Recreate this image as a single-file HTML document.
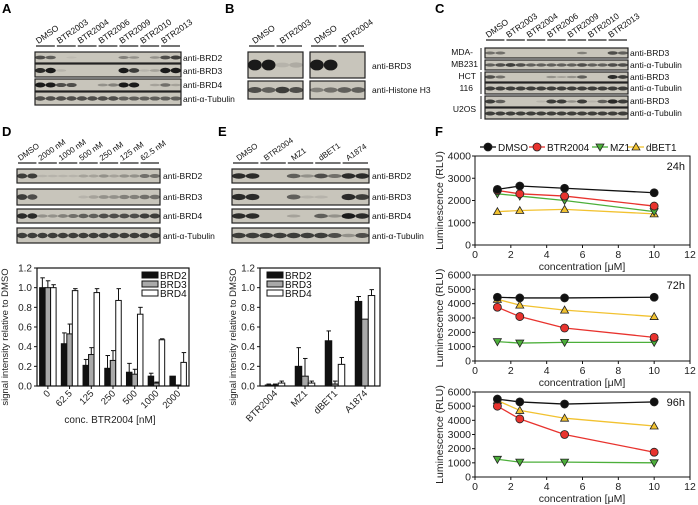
<!DOCTYPE html>
<html><head><meta charset="utf-8"><style>
html,body{margin:0;padding:0;background:#fff;}
svg{display:block;font-family:"Liberation Sans",Arial,sans-serif;}
</style></head><body>
<svg id="fig" width="698" height="505" viewBox="0 0 698 505" xmlns="http://www.w3.org/2000/svg">
<g font-weight="bold" font-size="13" fill="#000">
<text x="2" y="13">A</text>
<text x="225" y="13">B</text>
<text x="435" y="13">C</text>
<text x="2" y="136">D</text>
<text x="218" y="136">E</text>
<text x="435" y="136">F</text>
</g>
<g id="blots"></g>
<g id="bars"></g>
<g id="lines"></g>
</svg>
<script>
// ---------- Chart data ----------
var dCats = ["0","62.5","125","250","500","1000","2000"];
var dBRD2 = [1.0,0.43,0.21,0.18,0.14,0.10,0.10];
var dBRD3 = [1.0,0.53,0.32,0.26,0.12,0.03,0.01];
var dBRD4 = [1.0,0.97,0.95,0.87,0.73,0.47,0.24];
var dErr2 = [0.10,0.11,0.06,0.13,0.09,0.03,0.0];
var dErr3 = [0.07,0.10,0.07,0.10,0.05,0.01,0.0];
var dErr4 = [0.03,0.02,0.04,0.12,0.07,0.01,0.10];
var eCats = ["BTR2004","MZ1","dBET1","A1874"];
var eBRD2 = [0.01,0.20,0.46,0.86];
var eBRD3 = [0.01,0.10,0.02,0.68];
var eBRD4 = [0.03,0.03,0.22,0.92];
var eErr2 = [0.01,0.19,0.10,0.05];
var eErr3 = [0.01,0.18,0.03,0.0];
var eErr4 = [0.02,0.02,0.07,0.06];
var barTicks = ["0.0","0.2","0.4","0.6","0.8","1.0","1.2"];
var fConc = [1.25,2.5,5,10];
var fXTicks = [0,2,4,6,8,10,12];
var f24DMSO = [2500,2650,2550,2350];
var f24BTR = [2450,2300,2200,1750];
var f24MZ1 = [2300,2200,2000,1500];
var f24dBET = [1500,1550,1600,1400];
var f72DMSO = [4450,4400,4400,4450];
var f72BTR = [3750,3100,2300,1650];
var f72MZ1 = [1350,1250,1300,1300];
var f72dBET = [4300,3900,3550,3100];
var f96DMSO = [5500,5300,5150,5300];
var f96BTR = [5000,4100,3000,1750];
var f96MZ1 = [1250,1050,1050,1000];
var f96dBET = [5400,4700,4150,3600];

var NS="http://www.w3.org/2000/svg";
function mk(tag,attrs,parent,txt){var e=document.createElementNS(NS,tag);for(var k in attrs)e.setAttribute(k,attrs[k]);if(txt!==undefined)e.textContent=txt;parent.appendChild(e);return e;}
var B=document.getElementById('blots'),BR=document.getElementById('bars'),LN=document.getElementById('lines');

// ---------- Blots ----------
function blot(x,y,w,h,lanes,name){
  var g=mk('g',{},B);
  
  
  mk('rect',{x:x,y:y,width:w,height:h,fill:'#c8c5bb',stroke:'#222','stroke-width':1.2},g);
  var lw=w/lanes.length;
  for(var i=0;i<lanes.length;i++){
    var v=lanes[i]; if(v<=0) continue;
    mk('ellipse',{cx:x+lw*(i+0.5),cy:y+h/2,rx:lw*0.5,ry:Math.max(0.8,h*0.16*(0.5+v*0.8)),fill:'#1a1a1a',opacity:Math.min(1,v)},g);
  }
}
function lbl(x,y,t,name,size,anchor){var e=mk('text',{x:x,y:y,'font-size':size||8.5,'text-anchor':anchor||'start',fill:'#111'},B,t);return e;}
function colLabels(x0,lw,names,y,size){
  for(var i=0;i<names.length;i++){
    var cx=x0+lw*(2*i+1);
    var e=mk('text',{x:cx-7,y:y,'font-size':size||8.5,fill:'#111',transform:'rotate(-35 '+(cx-7)+' '+y+')'},B,names[i]);
    
    mk('line',{x1:x0+lw*2*i+1,x2:x0+lw*2*(i+1)-1,y1:y+2,y2:y+2,stroke:'#222','stroke-width':1.2},B);
  }
}
// Panel A
var aNames=["DMSO","BTR2003","BTR2004","BTR2006","BTR2009","BTR2010","BTR2013"];
colLabels(35,146/14,aNames,44,8.5);
blot(35,52,146,11,[.7,.6,0,.05,0,0,0,0,.4,.3,0,.3,.7,.8],'blot-a-brd2');
blot(35,64,146,13,[.9,1,.1,0,0,0,0,0,1,.8,.1,.2,1,1],'blot-a-brd3');
blot(35,79,146,12,[1,1,.7,.7,0,0,.3,.4,1,1,0,.2,.5,.2],'blot-a-brd4');
blot(35,92,146,13,[.7,.7,.7,.7,.7,.7,.7,.7,.6,.6,.6,.6,.6,.6],'blot-a-tubulin');
lbl(183,61,"anti-BRD2",'label-a-brd2');lbl(183,74,"anti-BRD3",'label-a-brd3');lbl(183,88,"anti-BRD4",'label-a-brd4');lbl(183,102,"anti-α-Tubulin",'label-a-tubulin');
// Panel B
colLabels(248,55/4,["DMSO","BTR2003"],44,8.5);colLabels(310,55/4,["DMSO","BTR2004"],44,8.5);
blot(248,52,55,26,[1,1,.1,.15],'blot-b-brd3-left');blot(310,52,55,26,[1,1,0,0],'blot-b-brd3-right');
blot(248,81,55,18,[.7,.6,.8,.7],'blot-b-h3-left');blot(310,81,55,18,[.4,.5,.6,.6],'blot-b-h3-right');
lbl(372,69,"anti-BRD3",'label-b-brd3');lbl(372,93,"anti-Histone H3",'label-b-h3');
// Panel C
colLabels(485,143/14,aNames,38,8.5);
var cRows=[[48,10,[.5,.5,0,0,0,0,0,0,0,.4,0,0,.7,.6]],[60,10,[.6,.7,.8,.7,.6,.6,.6,.6,.6,.7,.6,.6,.7,.7]],[72,10,[.7,.5,0,0,0,0,.3,.2,.3,.6,0,0,.9,.8]],[83,11,[.8,.8,.8,.8,.8,.8,.8,.8,.8,.8,.8,.8,.8,.8]],[96,11,[.8,.6,0,0,0,.1,.8,.8,.3,.8,.1,.6,.9,.8]],[108,11,[.8,.8,.8,.8,.8,.8,.8,.8,.8,.8,.8,.8,.8,.8]]];
var cLab=["anti-BRD3","anti-α-Tubulin","anti-BRD3","anti-α-Tubulin","anti-BRD3","anti-α-Tubulin"];
for(var i=0;i<6;i++){blot(485,cRows[i][0],143,cRows[i][1],cRows[i][2],'blot-c-row');lbl(630,cRows[i][0]+8,cLab[i],'label-c-row');}
lbl(473,55,"MDA-",'label-mda',8.5,'end');lbl(478,67,"MB231",'label-mb231',8.5,'end');
lbl(476,79,"HCT",'label-hct',8.5,'end');lbl(473,91,"116",'label-116',8.5,'end');lbl(476,112,"U2OS",'label-u2os',8.5,'end');
mk('line',{x1:481,x2:481,y1:48,y2:70,stroke:'#222'},B);mk('line',{x1:481,x2:481,y1:72,y2:94,stroke:'#222'},B);mk('line',{x1:481,x2:481,y1:96,y2:119,stroke:'#222'},B);
// Panel D blot
colLabels(17,143/14,["DMSO","2000 nM","1000 nM","500 nM","250 nM","125 nM","62.5 nM"],161,8);
blot(17,169,143,14,[.8,.8,.1,.1,.1,.1,.2,.2,.3,.2,.3,.3,.5,.5],'blot-d-brd2');
blot(17,189,143,16,[.8,.7,0,0,0,0,.1,.2,.3,.3,.4,.4,.5,.5],'blot-d-brd3');
blot(17,209,143,14,[.9,.9,.3,.3,.4,.5,.6,.6,.7,.7,.7,.7,.8,.8],'blot-d-brd4');
blot(17,228,143,15,[.8,.8,.8,.8,.8,.8,.8,.8,.8,.8,.8,.8,.8,.8],'blot-d-tubulin');
lbl(163,179,"anti-BRD2",'label-d-brd2');lbl(163,200,"anti-BRD3",'label-d-brd3');lbl(163,219,"anti-BRD4",'label-d-brd4');lbl(163,239,"anti-α-Tubulin",'label-d-tubulin');
// Panel E blot
colLabels(232,137/10,["DMSO","BTR2004","MZ1","dBET1","A1874"],161,8);
blot(232,169,137,14,[.9,.9,0,0,.6,.3,.7,.5,.9,.9],'blot-e-brd2');
blot(232,189,137,16,[.9,.9,0,0,.6,.1,.1,0,.9,.8],'blot-e-brd3');
blot(232,209,137,14,[.9,.9,0,0,.2,0,.6,.3,1,.9],'blot-e-brd4');
blot(232,228,137,15,[.8,.8,.8,.8,.8,.8,.8,.7,.3,.7],'blot-e-tubulin');
lbl(372,179,"anti-BRD2",'label-e-brd2');lbl(372,200,"anti-BRD3",'label-e-brd3');lbl(372,219,"anti-BRD4",'label-e-brd4');lbl(372,239,"anti-α-Tubulin",'label-e-tubulin');

// ---------- Bar charts ----------
function barChart(x0,x1,cats,s2,s3,s4,e2,e3,e4,bw,prefix,legX,titleX){
  var y0=386,yTop=268;
  function ys(v){return y0-(v/1.2)*(y0-yTop);}
  var g=mk('g',{},BR);
  
  
  var cw=(x1-x0)/cats.length;
  var series=[[s2,e2,'#111'],[s3,e3,'#a9a9a9'],[s4,e4,'#fff']];
  for(var c=0;c<cats.length;c++){
    var cx=x0+cw*(c+0.5);
    for(var s=0;s<3;s++){
      var v=series[s][0][c],er=series[s][1][c];
      var bx=cx+(s-1.5)*bw;
      if(er>0){mk('line',{x1:bx+bw/2,x2:bx+bw/2,y1:ys(v),y2:ys(v+er),stroke:'#111','stroke-width':1},g);mk('line',{x1:bx+bw/2-2,x2:bx+bw/2+2.5,y1:ys(v+er),y2:ys(v+er),stroke:'#111','stroke-width':1},g);}
      var r=mk('rect',{x:bx,y:ys(v),width:bw,height:Math.max(0.8,y0-ys(v)),fill:series[s][2],stroke:'#111','stroke-width':1},g);
      
      
    }
    mk('line',{x1:cx,x2:cx,y1:y0,y2:y0+3,stroke:'#111'},g);
    var tx=cx+3,ty=y0+8;
    var t=mk('text',{x:tx,y:ty,'font-size':9.5,'text-anchor':'end',fill:'#222',transform:'rotate(-45 '+tx+' '+ty+')'},g,cats[c]);
    
    
  }
  mk('rect',{x:x0,y:yTop,width:x1-x0,height:y0-yTop,fill:'none',stroke:'#111','stroke-width':1.2},g);
  for(var i=0;i<barTicks.length;i++){
    var yy=ys(i*0.2);
    mk('line',{x1:x0-3,x2:x0,y1:yy,y2:yy,stroke:'#111'},g);
    var t2=mk('text',{x:x0-5,y:yy+3.5,'font-size':10,'text-anchor':'end',fill:'#222'},g,barTicks[i]);
    
    
  }
  var yt=titleX, ymid=(y0+yTop)/2+10;
  var t3=mk('text',{x:yt,y:ymid,'font-size':9.5,'text-anchor':'middle',fill:'#222',transform:'rotate(-90 '+yt+' '+ymid+')'},g,'signal intensity relative to DMSO');
  
  
  var names=['BRD2','BRD3','BRD4'],fills=['#111','#a9a9a9','#fff'];
  for(var k=0;k<3;k++){
    var ly=272+k*9;
    var lr=mk('rect',{x:legX,y:ly,width:16,height:6,fill:fills[k],stroke:'#111'},g);
    
    
    var lt=mk('text',{x:legX+18,y:ly+7,'font-size':10,fill:'#111'},g,names[k]);
    
    
  }
}
barChart(37,189,dCats,dBRD2,dBRD3,dBRD4,dErr2,dErr3,dErr4,5.5,'d',142,8);
barChart(260,380,eCats,eBRD2,eBRD3,eBRD4,eErr2,eErr3,eErr4,6.5,'e',267,236);
var xt=mk('text',{x:110,y:423,'font-size':10,'text-anchor':'middle',fill:'#222'},BR,'conc. BTR2004 [nM]');



// ---------- Line charts ----------
function marker(g,type,x,y,col,name){
  var m;
  if(type==='c') m=mk('circle',{cx:x,cy:y,r:4,fill:col,stroke:'#222','stroke-width':0.8},g);
  else if(type==='d') m=mk('polygon',{points:(x-4)+','+(y-3)+' '+(x+4)+','+(y-3)+' '+x+','+(y+4),fill:col,stroke:'#222','stroke-width':0.8},g);
  else m=mk('polygon',{points:(x-4)+','+(y+3)+' '+(x+4)+','+(y+3)+' '+x+','+(y-4),fill:col,stroke:'#222','stroke-width':0.8},g);
  
  
}
function lineChart(yTop,y0,ymax,label,series,name){
  var x0=475,x1=690;
  function xs(v){return x0+(v/12)*(x1-x0);}
  function ys(v){return y0-(v/ymax)*(y0-yTop);}
  var g=mk('g',{},LN);
  
  
  mk('rect',{x:x0,y:yTop,width:x1-x0,height:y0-yTop,fill:'none',stroke:'#111','stroke-width':1},g);
  for(var i=0;i<fXTicks.length;i++){
    var xx=xs(fXTicks[i]);
    mk('line',{x1:xx,x2:xx,y1:y0,y2:y0+3,stroke:'#111'},g);
    var t=mk('text',{x:xx,y:y0+13,'font-size':10.5,'text-anchor':'middle',fill:'#222'},g,fXTicks[i]);
    
    
  }
  for(var v=0;v<=ymax;v+=1000){
    var yy=ys(v);
    mk('line',{x1:x0-3,x2:x0,y1:yy,y2:yy,stroke:'#111'},g);
    var t2=mk('text',{x:x0-4,y:yy+3.5,'font-size':10.5,'text-anchor':'end',fill:'#222'},g,v);
    
    
  }
  var xt=mk('text',{x:582,y:y0+25,'font-size':10.5,'text-anchor':'middle',fill:'#222'},g,'concentration [μM]');
  
  
  var ym=(y0+yTop)/2;
  var yt=mk('text',{x:443,y:ym,'font-size':10.5,'text-anchor':'middle',fill:'#222',transform:'rotate(-90 443 '+ym+')'},g,'Luminescence (RLU)');
  
  
  var lt=mk('text',{x:685,y:yTop+14,'font-size':11,'text-anchor':'end',fill:'#111'},g,label);
  
  
  for(var s=0;s<series.length;s++){
    var d=series[s][0],col=series[s][1],type=series[s][2];
    var pts=[];
    for(var j=0;j<d.length;j++) pts.push(xs(fConc[j])+','+ys(d[j]));
    var pl=mk('polyline',{points:pts.join(' '),fill:'none',stroke:col,'stroke-width':1.3},g);
    
    
    for(var j2=0;j2<d.length;j2++) marker(g,type,xs(fConc[j2]),ys(d[j2]),col,name+'-point-'+series[s][3]);
  }
}
lineChart(156,245,4000,'24h',[[f24dBET,'#f2c230','u','dbet1'],[f24MZ1,'#4caf3a','d','mz1'],[f24BTR,'#e8332e','c','btr2004'],[f24DMSO,'#111','c','dmso']],'f-24h-chart');
lineChart(275,361,6000,'72h',[[f72dBET,'#f2c230','u','dbet1'],[f72MZ1,'#4caf3a','d','mz1'],[f72BTR,'#e8332e','c','btr2004'],[f72DMSO,'#111','c','dmso']],'f-72h-chart');
lineChart(392,477,6000,'96h',[[f96dBET,'#f2c230','u','dbet1'],[f96MZ1,'#4caf3a','d','mz1'],[f96BTR,'#e8332e','c','btr2004'],[f96DMSO,'#111','c','dmso']],'f-96h-chart');
// legend F
var leg=[['DMSO','#111','c',480],['BTR2004','#e8332e','c',529],['MZ1','#4caf3a','d',592],['dBET1','#f2c230','u',628]];
for(var i=0;i<leg.length;i++){
  var lx=leg[i][3];
  mk('line',{x1:lx,x2:lx+16,y1:147,y2:147,stroke:leg[i][1],'stroke-width':1.3},LN);
  marker(LN,leg[i][2],lx+8,147,leg[i][1],'f-legend-marker');
  var t=mk('text',{x:lx+18,y:151,'font-size':10,fill:'#111'},LN,leg[i][0]);
  
  
}
</script>
</body></html>
